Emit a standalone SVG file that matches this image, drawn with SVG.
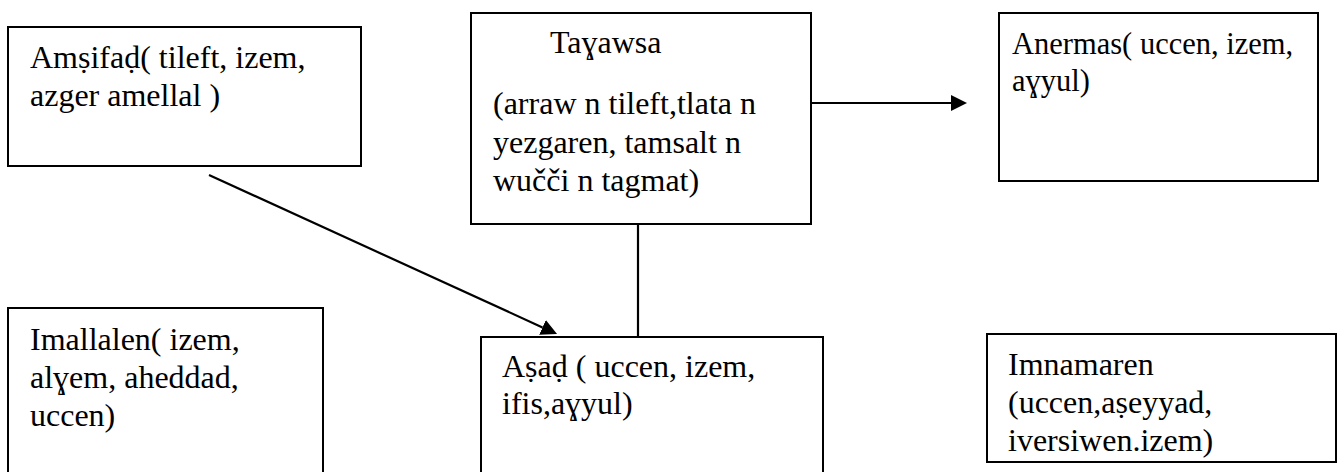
<svg xmlns="http://www.w3.org/2000/svg" width="1344" height="472" viewBox="0 0 1344 472">
  <style>
    .box { fill: #fff; stroke: #000; stroke-width: 2; }
    .t { font-family: "Liberation Serif", "Times New Roman", serif; font-size: 32px; fill: #000; }
    .s { font-size: 30.5px; }
    .c { stroke: #000; stroke-width: 2.2; fill: none; }
  </style>
  <defs>
    <marker id="arr" markerUnits="userSpaceOnUse" markerWidth="17" markerHeight="17" refX="0" refY="8" orient="auto">
      <path d="M0,0 L16,8 L0,16 z" fill="#000"/>
    </marker>
    <clipPath id="clipImn"><rect x="987" y="334" width="349" height="125"/></clipPath>
  </defs>
  <rect width="1344" height="472" fill="#fff"/>

  <g id="connectors">
    <line class="c" x1="209" y1="175" x2="542.5" y2="327.4" marker-end="url(#arr)"/>
    <line class="c" x1="812" y1="103" x2="951" y2="103" marker-end="url(#arr)"/>
    <line class="c" x1="638" y1="224" x2="638" y2="337"/>
  </g>

  <g id="amsifad">
    <rect class="box" x="8" y="27" width="353" height="139"/>
    <text class="t" x="30" y="68">Amṣifaḍ( tileft, izem,</text>
    <text class="t" x="30" y="106">azger amellal )</text>
  </g>

  <g id="tayawsa">
    <rect class="box" x="471" y="13" width="340" height="211"/>
    <text class="t" x="550" y="53">Taɣawsa</text>
    <text class="t" x="493" y="114">(arraw n tileft,tlata n</text>
    <text class="t" x="493" y="153">yezgaren, tamsalt n</text>
    <text class="t" x="493" y="191">wučči n tagmat)</text>
  </g>

  <g id="anermas">
    <rect class="box" x="999" y="13" width="319" height="168"/>
    <text class="t s" x="1012" y="54">Anermas( uccen, izem,</text>
    <text class="t s" x="1012" y="91">aɣyul)</text>
  </g>

  <g id="imallalen">
    <rect class="box" x="8" y="308" width="315" height="170"/>
    <text class="t" x="30" y="350">Imallalen( izem,</text>
    <text class="t" x="30" y="388">alɣem, aheddad,</text>
    <text class="t" x="30" y="426">uccen)</text>
  </g>

  <g id="asad">
    <rect class="box" x="481" y="337" width="342" height="141"/>
    <text class="t" x="502" y="377">Aṣaḍ ( uccen, izem,</text>
    <text class="t" x="502" y="414">ifis,aɣyul)</text>
  </g>

  <g id="imnamaren">
    <rect class="box" x="987" y="334" width="349" height="128"/>
    <g clip-path="url(#clipImn)">
      <text class="t" x="1008" y="375">Imnamaren</text>
      <text class="t" x="1008" y="413">(uccen,aṣeyyad,</text>
      <text class="t" x="1008" y="451">iversiwen.izem)</text>
    </g>
  </g>
</svg>
